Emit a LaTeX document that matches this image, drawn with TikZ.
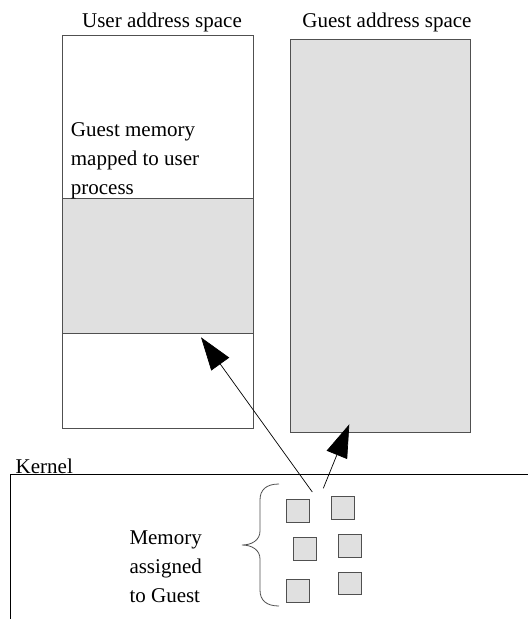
\documentclass[tikz,border=0pt]{standalone}
\usepackage{fontspec}
\setmainfont{Liberation Serif}
\newfontfamily\diagfont{Liberation Serif}
\usetikzlibrary{arrows.meta}
\definecolor{boxline}{HTML}{505050}
\definecolor{memfill}{HTML}{E0E0E0}
\begin{document}
\begin{tikzpicture}[x=1pt,y=-1pt,
  every node/.style={font=\diagfont\fontsize{21}{29}\selectfont},
  area/.style={draw=boxline,line width=0.9pt,rectangle,inner sep=0pt,anchor=north west},
  page/.style={draw=boxline,fill=memfill,line width=0.9pt,rectangle,inner sep=0pt,minimum width=22.7pt,minimum height=22.7pt,anchor=north west},
  label/.style={inner sep=0pt,align=left,anchor=north west},
  maparrow/.style={draw=black,line width=0.7pt,-{Triangle[length=33pt,width=22pt]}}]
\useasboundingbox (0,0) rectangle (528,619);
% address spaces
\node[area,minimum width=191pt,minimum height=393pt] (user) at (62,35) {};
\node[area,fill=memfill,minimum width=191pt,minimum height=135pt] (mapped) at (62,198) {};
\node[area,fill=memfill,minimum width=180pt,minimum height=393pt] (guest) at (290,39) {};
\node[anchor=base,inner sep=0pt] (usertitle) at (162,27) {User address space};
\node[anchor=base,inner sep=0pt] (guesttitle) at (387,27) {Guest address space};
\node[label] (mappedlabel) at (70.7,122.5) {Guest memory\\mapped to user\\process};
% kernel
\draw[line width=0.8pt] (10,619) -- (10,474) -- (528,474);
\node[anchor=base west,inner sep=0pt] (kernel) at (15.5,473) {Kernel};
% memory pages
\node[page] (p1) at (286,499.3) {};
\node[page] (p2) at (331,496) {};
\node[page] (p3) at (293.3,537.3) {};
\node[page] (p4) at (338.3,534) {};
\node[page] (p5) at (286,579.3) {};
\node[page] (p6) at (338.3,571.7) {};
\draw[draw=boxline,line width=0.8pt] (279,484) .. controls (266,484) and (260,490) .. (260,500) -- (260,531)
  .. controls (260,540) and (252,545) .. (242,545)
  .. controls (252,545) and (260,550) .. (260,559) -- (260,590)
  .. controls (260,600) and (266,606) .. (279,606);
\node[label] (memlabel) at (129.3,530.5) {Memory\\assigned\\to Guest};
% arrows
\coordinate (a1s) at (312.3,492);
\coordinate (a1e) at (201,337.3);
\coordinate (a2s) at (323.3,488.3);
\coordinate (a2e) at (349.3,424.3);
\draw[maparrow] (a1s) -- (a1e);
\draw[maparrow] (a2s) -- (a2e);
\end{tikzpicture}
\end{document}
